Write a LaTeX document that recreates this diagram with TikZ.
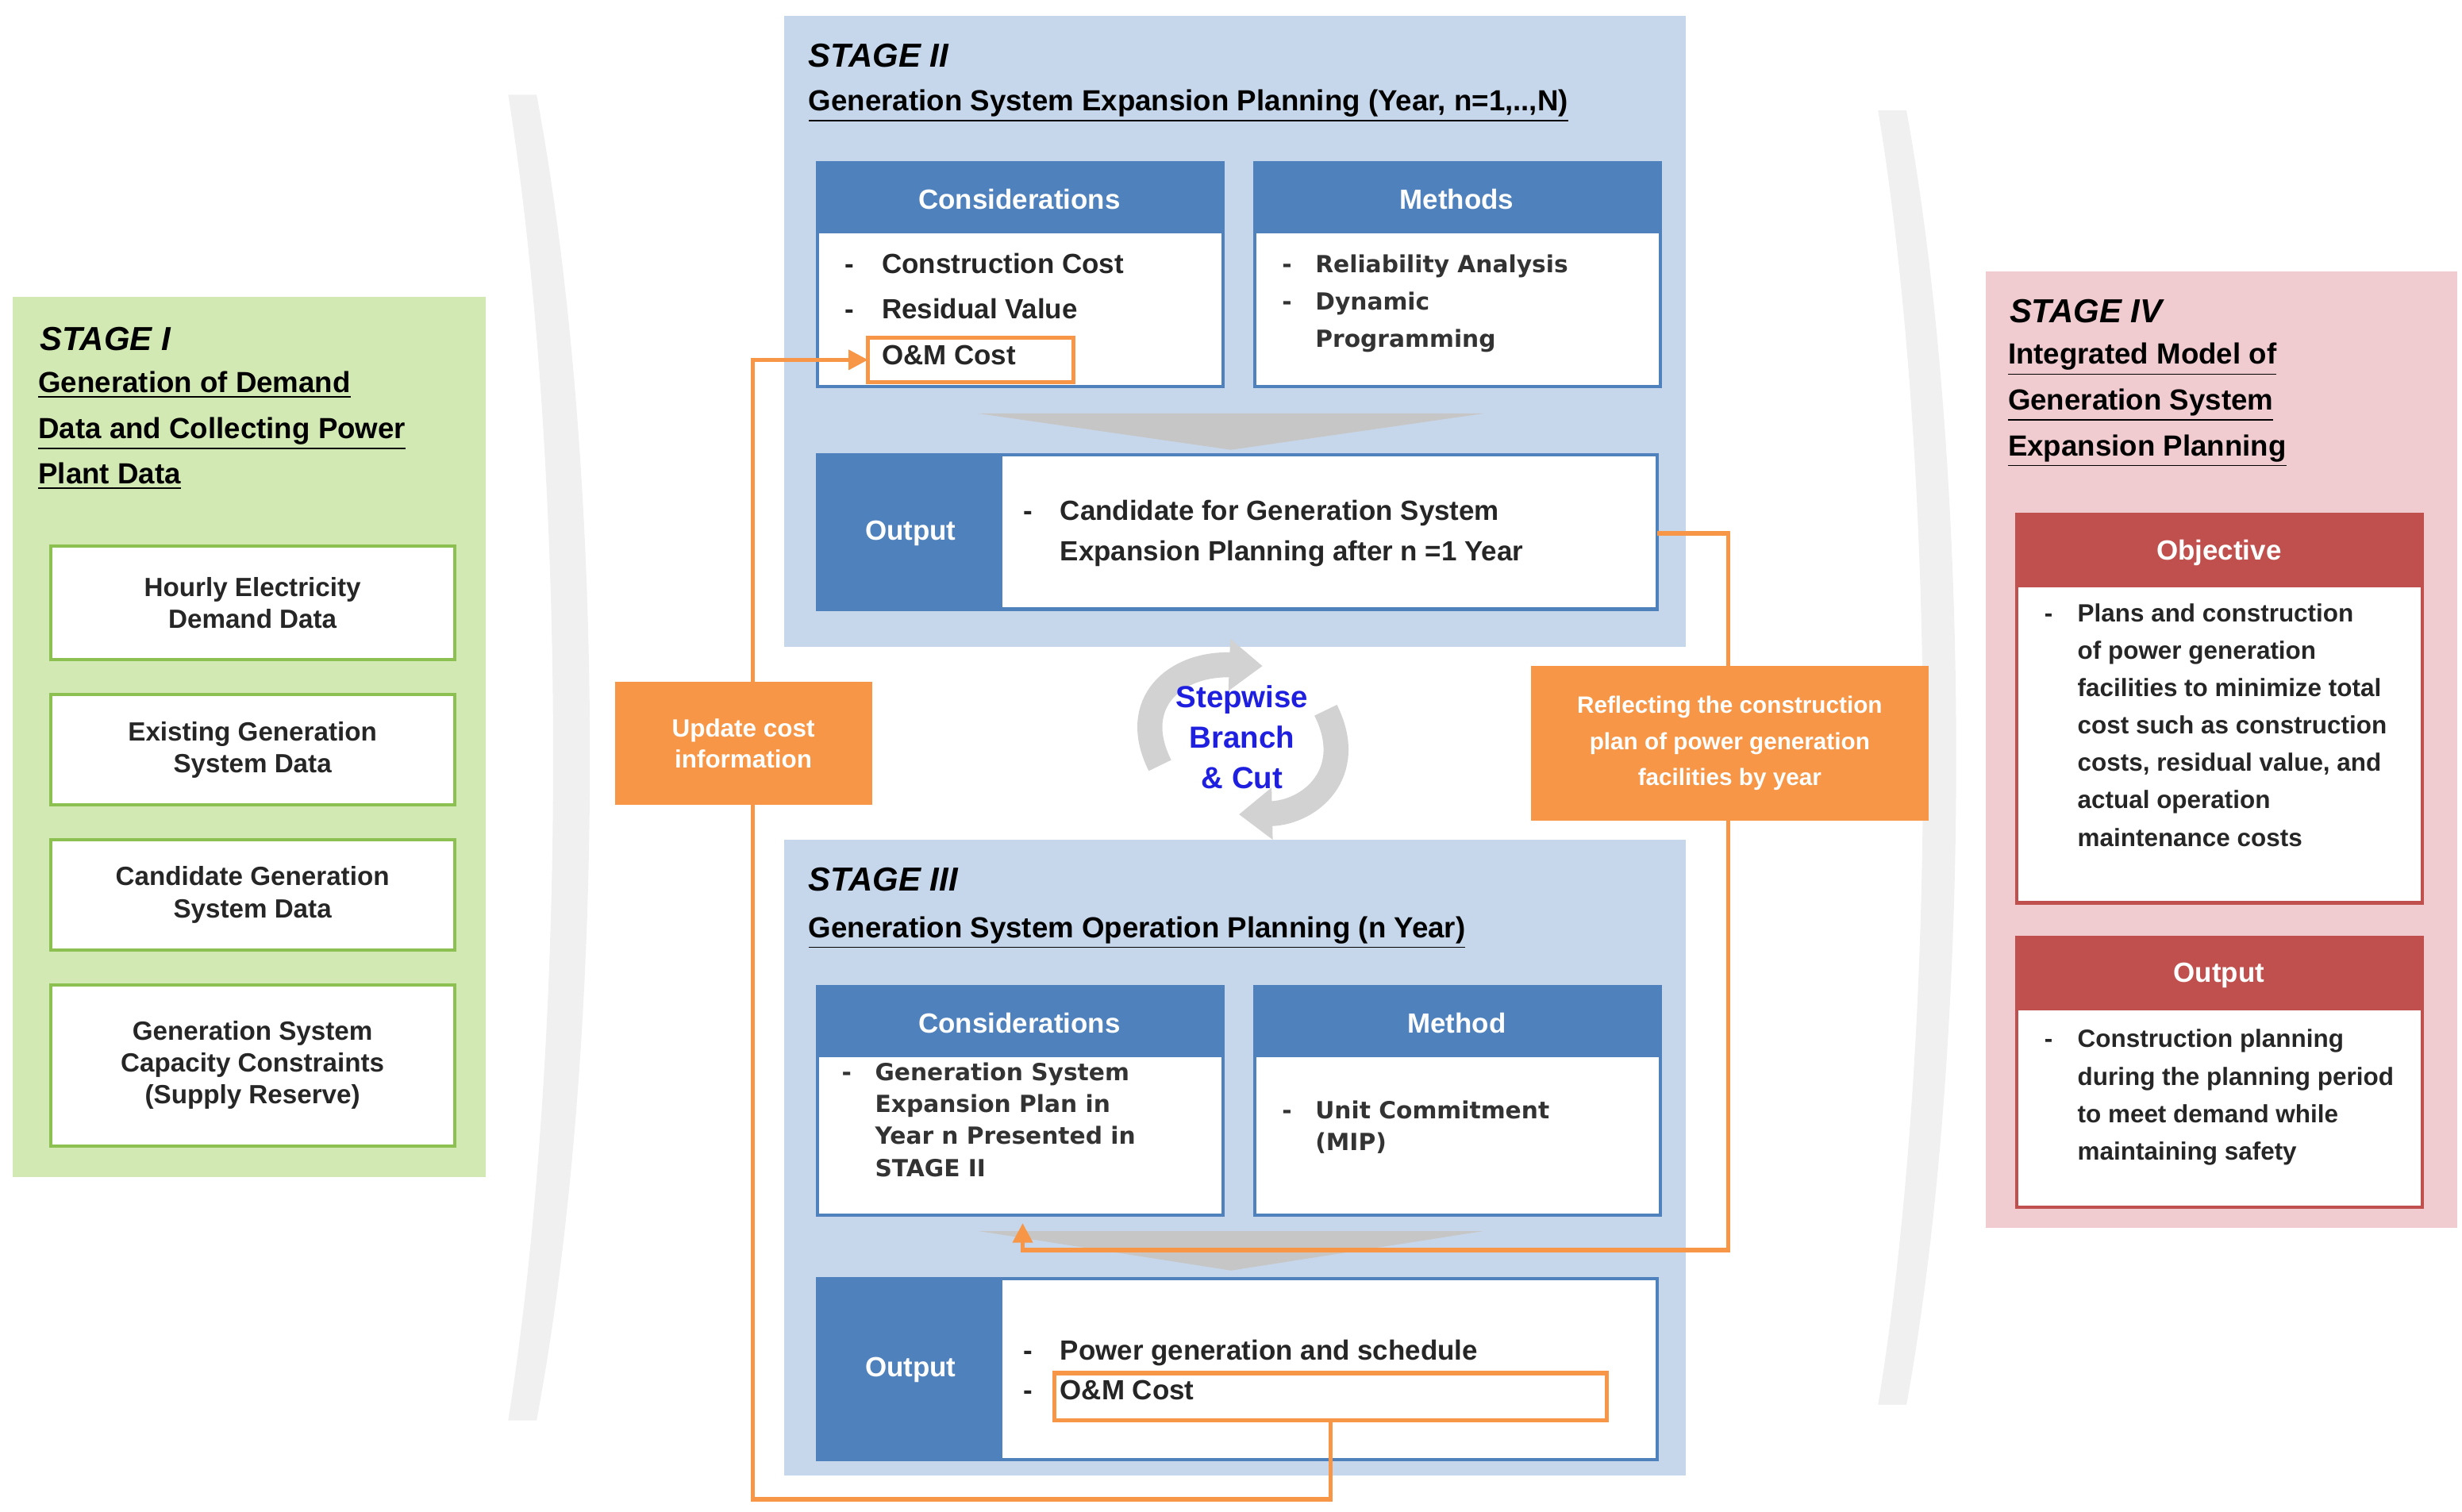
\documentclass[tikz,border=0pt]{standalone}
\usepackage{fontspec}
\setmainfont{Liberation Sans}
\newfontfamily\dv{DejaVu Sans}
\usetikzlibrary{arrows.meta}
\definecolor{hblue}{HTML}{4F81BD}
\definecolor{pblue}{HTML}{C6D7EB}
\definecolor{pgreen}{HTML}{D3E9B3}
\definecolor{gborder}{HTML}{8CC152}
\definecolor{ppink}{HTML}{F0CCD0}
\definecolor{hred}{HTML}{C0504D}
\definecolor{orng}{HTML}{F79646}
\definecolor{sblue}{HTML}{1F1FE0}
\begin{document}
\begin{tikzpicture}[x=0.02cm,y=-0.02cm,
  txt/.style={font=\fontsize{9.5}{11.5}\selectfont\bfseries,text=black!85,inner sep=0},
  dtxt/.style={font=\dv\fontsize{8.5}{11.5}\selectfont\bfseries,text=black!80,inner sep=0,align=left,anchor=north west},
  ttl/.style={font=\fontsize{12}{15}\selectfont\bfseries\itshape,anchor=west,inner sep=0},
  sub/.style={font=\fontsize{10.5}{16.5}\selectfont\bfseries,anchor=north west,align=left,inner sep=0},
  hdr/.style={font=\fontsize{10}{12}\selectfont\bfseries,text=white,inner sep=0},
  wbox/.style={fill=white,draw=#1,line width=1.2pt},
  obox/.style={draw=orng,line width=1.5pt},
  oline/.style={draw=orng,line width=1.5pt},
  otag/.style={fill=orng,text=white,font=\fontsize{9}{11}\selectfont\bfseries,align=center,inner sep=0},
  cyc/.style={draw=gray!35,line width=9pt,-{Triangle[length=12pt,width=18pt]}}]
\useasboundingbox (0,0) rectangle (1560,958);
% big chevrons
\fill[gray!12] (322,60) .. controls (360,300) and (360,660) .. (322,900) -- (340,900) .. controls (385,660) and (385,300) .. (340,60) -- cycle;
\fill[gray!12] (1190,70) .. controls (1228,300) and (1228,660) .. (1190,890) -- (1208,890) .. controls (1250,660) and (1250,300) .. (1208,70) -- cycle;
% Stage I
\fill[pgreen] (8,188) rectangle (308,746);
\node[ttl] (t1) at (25,215) {STAGE I};
\node[sub] (s1) at (24,235) {\underline{Generation of Demand}\\\underline{Data and Collecting Power}\\\underline{Plant Data}};
\foreach \n/\ya/\yb/\t in {b1/346/418/{Hourly Electricity\\Demand Data},b2/440/510/{Existing Generation\\System Data},b3/532/602/{Candidate Generation\\System Data},b4/624/726/{Generation System\\Capacity Constraints\\(Supply Reserve)}}{
  \draw[wbox=gborder] (32,\ya) rectangle (288,\yb);
  \node[txt,align=center] (\n) at (160,{(\ya+\yb)/2}) {\t};}
% Stage II
\fill[pblue] (497,10) rectangle (1068,410);
\node[ttl] (t2) at (512,35) {STAGE II};
\node[sub,anchor=west] (s2) at (512,67) {\underline{Generation System Expansion Planning (Year, n=1,..,N)}};
\draw[wbox=hblue] (518,103) rectangle (775,245); \fill[hblue] (518,103) rectangle (775,148);
\node[hdr] (c2) at (646,126) {Considerations};
\node[txt,align=left,anchor=north west,font=\fontsize{10}{16.5}\selectfont\bfseries] (c2t) at (535,160) {-\quad Construction Cost\\-\quad Residual Value\\\phantom{-}\quad O\&M Cost};
\draw[wbox=hblue] (795,103) rectangle (1052,245); \fill[hblue] (795,103) rectangle (1052,148);
\node[hdr] (m2) at (923,126) {Methods};
\node[dtxt,font=\dv\fontsize{8.5}{13.5}\selectfont\bfseries] (m2t) at (812,161) {-\quad Reliability Analysis\\-\quad Dynamic\\\phantom{-}\quad Programming};
\draw[obox] (550,214) rectangle (680,242);
\coordinate (om2w) at (550,228);
\fill[gray!45] (620,262) -- (940,262) -- (780,285) -- cycle;
\draw[wbox=hblue] (518,288) rectangle (1050,386); \fill[hblue] (518,288) rectangle (635,386);
\node[hdr] (o2) at (577,338) {Output};
\node[txt,align=left,anchor=west,font=\fontsize{10}{14.5}\selectfont\bfseries] (o2t) at (648,338) {-\quad Candidate for Generation System\\\phantom{-}\quad Expansion Planning after n =1 Year};
\coordinate (o2e) at (1050,338);
% Stepwise cycle arrows
\draw[cyc] (735,485) .. controls (715,445) and (745,420) .. (800,422);
\draw[cyc] (840,450) .. controls (860,490) and (830,515) .. (785,516);
\node[font=\fontsize{11}{14.5}\selectfont\bfseries,text=sblue,align=center] (sw) at (787,467) {Stepwise\\Branch\\\& Cut};
% Stage III
\fill[pblue] (497,532) rectangle (1068,935);
\node[ttl] (t3) at (512,557) {STAGE III};
\node[sub,anchor=west] (s3) at (512,591) {\underline{Generation System Operation Planning (n Year)}};
\draw[wbox=hblue] (518,625) rectangle (775,770); \fill[hblue] (518,625) rectangle (775,670);
\node[hdr] (c3) at (646,648) {Considerations};
\node[dtxt] (c3t) at (533,673) {-\quad Generation System\\\phantom{-}\quad Expansion Plan in\\\phantom{-}\quad Year n Presented in\\\phantom{-}\quad STAGE II};
\draw[wbox=hblue] (795,625) rectangle (1052,770); \fill[hblue] (795,625) rectangle (1052,670);
\node[hdr] (m3) at (923,648) {Method};
\node[dtxt] (m3t) at (812,697) {-\quad Unit Commitment\\\phantom{-}\quad (MIP)};
\fill[gray!45] (620,780) -- (940,780) -- (780,805) -- cycle;
\draw[wbox=hblue] (518,810) rectangle (1050,925); \fill[hblue] (518,810) rectangle (635,925);
\node[hdr] (o3) at (577,868) {Output};
\node[txt,align=left,anchor=west,font=\fontsize{10}{14.5}\selectfont\bfseries] (o3t) at (648,868) {-\quad Power generation and schedule\\-\quad O\&M Cost};
\draw[obox] (668,870) rectangle (1018,900);
\coordinate (om3s) at (843,900);
% orange connectors
\draw[oline,-{Triangle[length=7pt,width=7pt]}] (om3s) -- (843,950) -- (477,950) -- (477,228) -- (om2w);
\draw[oline,-{Triangle[length=7pt,width=7pt]}] (o2e) -- (1095,338) -- (1095,792) -- (648,792) -- (648,775);
% orange tags
\node[otag,minimum width=163*0.02cm,minimum height=78*0.02cm] (upd) at (471,471) {Update cost\\information};
\node[otag,minimum width=252*0.02cm,minimum height=98*0.02cm,font=\fontsize{8.5}{13}\selectfont\bfseries] (refl) at (1096,471) {Reflecting the construction\\plan of power generation\\facilities by year};
% Stage IV
\fill[ppink] (1258,172) rectangle (1557,778);
\node[ttl] (t4) at (1273,197) {STAGE IV};
\node[sub] (s4) at (1272,217) {\underline{Integrated Model of}\\\underline{Generation System}\\\underline{Expansion Planning}};
\draw[wbox=hred] (1278,326) rectangle (1535,572); \fill[hred] (1278,326) rectangle (1535,372);
\node[hdr] (ob) at (1406,350) {Objective};
\node[txt,align=left,anchor=north west,font=\fontsize{9}{13.5}\selectfont\bfseries] (obt) at (1295,382) {-\quad Plans and construction\\\phantom{-}\quad of power generation\\\phantom{-}\quad facilities to minimize total\\\phantom{-}\quad cost such as construction\\\phantom{-}\quad costs, residual value, and\\\phantom{-}\quad actual operation\\\phantom{-}\quad maintenance costs};
\draw[wbox=hred] (1278,594) rectangle (1535,765); \fill[hred] (1278,594) rectangle (1535,640);
\node[hdr] (o4) at (1406,618) {Output};
\node[txt,align=left,anchor=north west,font=\fontsize{9}{13.5}\selectfont\bfseries] (o4t) at (1295,652) {-\quad Construction planning\\\phantom{-}\quad during the planning period\\\phantom{-}\quad to meet demand while\\\phantom{-}\quad maintaining safety};
\end{tikzpicture}
\end{document}
